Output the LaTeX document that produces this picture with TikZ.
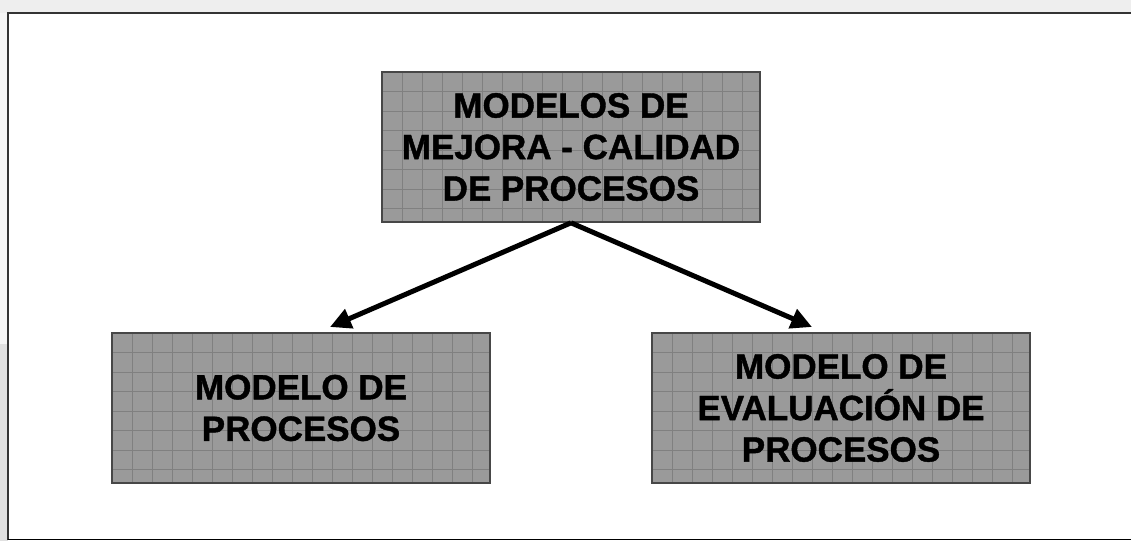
\documentclass[tikz,border=0pt]{standalone}
\usepackage{fontspec}
\setmainfont{Liberation Sans}[BoldFeatures={FakeBold=1.2}]
\usetikzlibrary{arrows.meta}
\definecolor{boxfill}{HTML}{9A9A9A}
\definecolor{gridline}{HTML}{808080}
\definecolor{boxborder}{HTML}{474747}
\definecolor{bgtop}{HTML}{EEEEEE}
\definecolor{bgleftup}{HTML}{F5F5F5}
\definecolor{bgleftlow}{HTML}{E0E0E0}
\tikzset{
  boxnode/.style={draw=boxborder, line width=1.6pt, minimum width=378pt, minimum height=150pt,
    inner sep=0pt, align=center, font=\fontsize{35}{41.5}\selectfont\bfseries, text=black},
  link/.style={line width=5pt, -{Triangle[length=21pt,width=20pt]}, black},
  gridl/.style={gridline, line width=1pt}
}
\newcommand{\gridbox}[4]{% x0 y0 x1 y1
  \fill[boxfill] (#1,#2) rectangle (#3,#4);
  \begin{scope}
    \clip (#1,#2) rectangle (#3,#4);
    \foreach \k in {1,...,19} {\draw[gridl] ({#1+20*\k},#2) -- ({#1+20*\k},#4);}
    \foreach \k in {1,...,7} {\draw[gridl] (#1,{#2+19.5*\k}) -- (#3,{#2+19.5*\k});}
  \end{scope}
}
\begin{document}
\begin{tikzpicture}[x=1pt,y=-1pt]
\useasboundingbox (0,0) rectangle (1131,541);
% background
\fill[bgtop] (0,0) rectangle (1131,13);
\fill[bgleftup] (0,13) rectangle (8,344);
\fill[bgleftlow] (0,344) rectangle (8,541);
\fill[white] (8,13) rectangle (1131,541);
\draw[black!80, line width=2pt] (8,540) -- (8,13) -- (1131,13);
\draw[black, line width=1.5pt] (8,539.5) -- (1131,539.5);
% boxes
\gridbox{382}{72}{760}{222}
\gridbox{112}{333}{490}{483}
\gridbox{652}{333}{1030}{483}
\node[boxnode] (top) at (571,147) {MODELOS DE\\MEJORA - CALIDAD\\DE PROCESOS};
\node[boxnode] (bl) at (301,408) {MODELO DE\\PROCESOS};
\node[boxnode] (br) at (841,408) {MODELO DE\\EVALUACIÓN DE\\PROCESOS};
\coordinate (tl) at (330,327);
\coordinate (tr) at (812,327);
\draw[link] (top.south) -- (tl);
\draw[link] (top.south) -- (tr);
\end{tikzpicture}
\end{document}
